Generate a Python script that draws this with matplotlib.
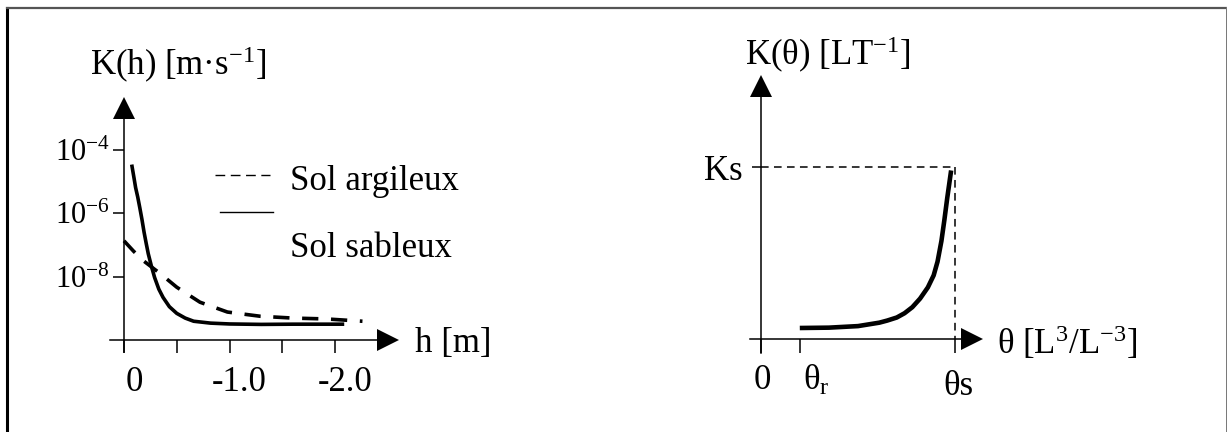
import matplotlib
matplotlib.use("Agg")
import matplotlib.pyplot as plt
from matplotlib.transforms import ScaledTranslation
from matplotlib.lines import Line2D
from matplotlib.ticker import NullLocator

plt.rcParams['font.family'] = 'Liberation Serif'
plt.rcParams['mathtext.fontset'] = 'custom'
plt.rcParams['mathtext.rm'] = 'Liberation Serif'
plt.rcParams['mathtext.it'] = 'Liberation Serif:italic'
plt.rcParams['mathtext.bf'] = 'Liberation Serif:bold'

# ---------------- data: left panel K(h) ----------------
h_sable = [-0.076, -0.095, -0.11, -0.13, -0.15, -0.17, -0.19, -0.21, -0.23,
           -0.26, -0.29, -0.33, -0.37, -0.43, -0.50, -0.58, -0.66, -0.82,
           -1.0, -1.3, -1.6, -2.07]
K_sable = [2.95e-5, 1.26e-5, 6.3e-6, 3.2e-6, 1.45e-6, 6.3e-7, 2.5e-7, 1.12e-7,
           5.2e-8, 2.1e-8, 9.3e-9, 4.0e-9, 2.2e-9, 1.12e-9, 6.9e-10, 4.9e-10,
           3.9e-10, 3.4e-10, 3.2e-10, 3.1e-10, 3.15e-10, 3.15e-10]
h_argile = [0.0, -0.09, -0.18, -0.34, -0.50, -0.72, -0.98, -1.29, -1.60,
            -1.92, -2.26]
K_argile = [1.33e-7, 6.3e-8, 3.2e-8, 1.26e-8, 4.6e-9, 1.55e-9, 7.6e-10,
            5.6e-10, 4.9e-10, 4.6e-10, 3.9e-10]
h_ticks = [0.0, -0.5, -1.0, -1.5, -2.0]
h_tick_labels = ['0', '', '-1.0', '', '-2.0']
K_ticks = [1e-4, 1e-6, 1e-8]
K_tick_labels = ['$10^{-4}$', '$10^{-6}$', '$10^{-8}$']
legend_labels = ['Sol argileux', 'Sol sableux']

# ---------------- data: right panel K(theta) ----------------
theta = [0.20, 0.35, 0.50, 0.61, 0.65, 0.70, 0.74, 0.78, 0.82, 0.86, 0.89,
         0.91, 0.93, 0.945, 0.96, 0.97, 0.98]
K_theta = [0.064, 0.066, 0.075, 0.095, 0.107, 0.125, 0.15, 0.185, 0.235, 0.30,
           0.37, 0.45, 0.57, 0.69, 0.82, 0.90, 0.98]
theta_r, theta_s, Ks = 0.201, 1.0, 1.0
theta_ticks = [0.0, theta_r, theta_s]
theta_tick_labels = ['0', 'θ$_{\\rm r}$', 'θs']
Ks_ticks = [Ks]
Ks_tick_labels = ['Ks']

W, H = 1227, 432
fig = plt.figure(figsize=(W / 100, H / 100), dpi=100)


def fx(px):
    return px / W


def fy(py):
    return 1 - py / H


def setup_axes(ax, x0, y0):
    ax.patch.set_visible(False)
    ax.spines['top'].set_visible(False)
    ax.spines['right'].set_visible(False)
    ax.spines['left'].set_position(('data', x0))
    ax.spines['bottom'].set_position(('data', y0))
    for s in ('left', 'bottom'):
        ax.spines[s].set_linewidth(1.1)
    ax.plot([1], [y0], marker='>', ms=16, mew=0, color='k',
            transform=ax.get_yaxis_transform(), clip_on=False)
    ax.plot([x0], [1], marker='^', ms=16, mew=0, color='k',
            transform=ax.get_xaxis_transform(), clip_on=False)


def offset_labels(labels, offsets):
    for lab, (dx, dy) in zip(labels, offsets):
        lab.set_transform(lab.get_transform() +
                          ScaledTranslation(dx / 100, dy / 100, fig.dpi_scale_trans))


# ---------------- left panel ----------------
axL = fig.add_axes([fx(110), fy(352), fx(388) - fx(110), fy(107.5) - fy(352)])
axL.set_yscale('log')
axL.set_xlim(0.1327, -2.502)
axL.set_ylim(10 ** -10.378, 10 ** -2.677)
setup_axes(axL, 0.0, 1e-10)
axL.set_xticks(h_ticks)
axL.set_xticklabels(h_tick_labels)
axL.set_yticks(K_ticks)
axL.set_yticklabels(K_tick_labels)
axL.yaxis.set_minor_locator(NullLocator())
axL.tick_params(axis='x', direction='out', length=9.5, width=1.1, pad=9, labelsize=25)
axL.tick_params(axis='y', direction='out', length=8, width=1.1, pad=2, labelsize=22)
offset_labels(axL.get_xticklabels(), [(10, 0)] * len(h_ticks))

axL.plot(h_argile, K_argile, color='k', lw=2.6, linestyle=(0, (4.5, 3.5)),
         solid_capstyle='butt', clip_on=False)
axL.plot(h_sable, K_sable, color='k', lw=2.6, clip_on=False)

# legend (drawn manually, as in the reference)
fig.add_artist(Line2D([fx(215), fx(270)], [fy(175), fy(175)], color='k', lw=1.0,
                      linestyle=(0, (7, 4)), transform=fig.transFigure))
fig.add_artist(Line2D([fx(220), fx(273)], [fy(212), fy(212)], color='k', lw=1.0,
                      transform=fig.transFigure))
fig.text(fx(290), fy(190), legend_labels[0], fontsize=25, ha='left', va='baseline')
fig.text(fx(290), fy(257), legend_labels[1], fontsize=25, ha='left', va='baseline')

fig.text(fx(90), fy(75), 'K(h) [m·s$^{-1}$]', fontsize=25, ha='left', va='baseline')
fig.text(fx(415), fy(352), 'h [m]', fontsize=25, ha='left', va='baseline')

# ---------------- right panel ----------------
axR = fig.add_axes([fx(750), fy(353), fx(972) - fx(750), fy(86) - fy(353)])
axR.set_xlim(-0.0567, 1.0876)
axR.set_ylim(-0.0814, 1.471)
setup_axes(axR, 0.0, 0.0)
axR.set_xticks(theta_ticks)
axR.set_xticklabels(theta_tick_labels)
axR.set_yticks(Ks_ticks)
axR.set_yticklabels(Ks_tick_labels)
axR.tick_params(axis='x', direction='out', length=10, width=1.1, pad=8, labelsize=25)
axR.tick_params(axis='y', direction='out', length=6.5, width=1.1, pad=7, labelsize=25)
offset_labels(axR.get_xticklabels(), [(1, 0), (16, 0), (3, -6)])

axR.plot([0, theta_s], [Ks, Ks], color='k', lw=1.1, linestyle=(0, (5, 3.5)))
axR.plot([theta_s, theta_s], [Ks, 0], color='k', lw=1.1, linestyle=(0, (5, 3.5)))
axR.plot(theta, K_theta, color='k', lw=3.3, solid_capstyle='butt')

fig.text(fx(745), fy(65), 'K(θ) [LT$^{-1}$]', fontsize=25, ha='left', va='baseline')
fig.text(fx(997), fy(354), 'θ [L$^{3}$/L$^{-3}$]', fontsize=25, ha='left', va='baseline')

# ---------------- frame ----------------
fig.add_artist(Line2D([fx(7), fx(7)], [0, fy(8)], color='k', lw=2.2,
                      transform=fig.transFigure))
fig.add_artist(Line2D([fx(7), fx(1226.5)], [fy(8), fy(8)], color='#555555', lw=1.6,
                      transform=fig.transFigure))
fig.add_artist(Line2D([fx(1226.5), fx(1226.5)], [fy(8), 0], color='#777777', lw=1.4,
                      transform=fig.transFigure))

fig.savefig('out.png', dpi=100)
